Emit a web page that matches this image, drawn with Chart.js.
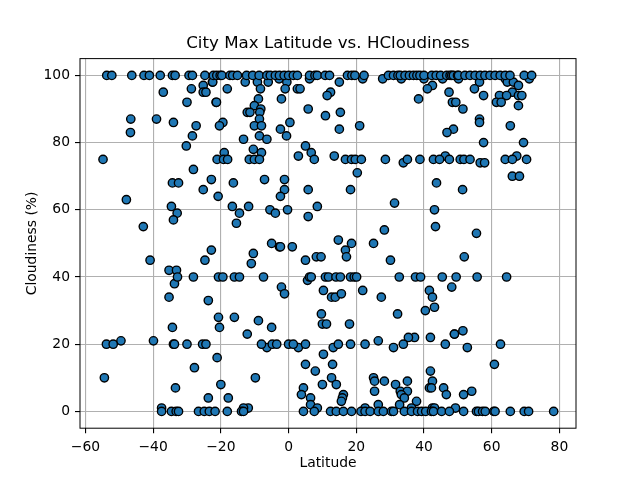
<!DOCTYPE html>
<html>
<head>
<meta charset="utf-8">
<title>City Max Latitude vs. HCloudiness</title>
<script src="https://cdn.jsdelivr.net/npm/chart.js@4"></script>
<style>
  html, body { margin: 0; padding: 0; background: #fff; }
  #wrap { width: 640px; height: 480px; }
</style>
</head>
<body>
<div id="wrap"><canvas id="chart" width="640" height="480"></canvas></div>
<script>
// lignes ou beaucoup de villes ont la meme valeur
const lat100 = [-53.7,-52.2,-46.3,-42.7,-41.1,-37.9,-34.3,-33.5,-29.4,-28.4,-24.7,-22.2,-21.2,-20.2,-19.7,-17.3,-16.5,-15.1,-12.4,-10.6,-8.7,-6.4,-5.4,-3.9,-2.7,-1.3,0,1.4,2.6,6.2,7.8,8.5,10.8,12.1,17.4,18.7,19.6,22.3,29.5,31,32.3,33,34.4,35.7,36.9,37.9,38.8,40,42.3,43.6,44.9,46.7,47.7,48.2,48.7,49.9,50.2,52.1,53.6,55.1,56.6,58,59.5,61,62.5,64,65.4,69.6,71.8];
const lat75 = [-54.8,-21.1,-19.2,-18,-11.6,-10.1,-8.6,7.6,16.8,18.6,19.7,21.5,28.6,35.1,38.8,42.8,44.6,47.5,50.7,51.8,53.6,64,66.1,70.3];
const lat40 = [-32.8,-28.1,-20.7,-19.4,-16,-14.5,-7.4,6.2,6.7,10.9,11.8,14,15.3,18.3,19.4,20.1,32.7,37.5,39,45.4,49.5,55.7,64.4];
const lat20 = [-53.8,-51.8,-34,-33.7,-30,-25.4,-24.4,-8,-4.8,-3.5,0,1.4,5,14.7,18.3,22.6,33.9,46.3,62.6];
const lat0 = [-37.5,-34.6,-33.2,-32.5,-26.6,-24.9,-23.4,-21.7,-18.1,-13.9,-13.3,4.4,7.6,12.4,14.1,16.2,18.6,21.4,22.6,24.1,26.5,28,30.4,31,34.2,36.3,38.1,39.3,40.5,42.2,42.8,45.2,47.5,51.7,55.5,56.1,57.3,58.1,60.6,61,65.5,69.6,70.9,78.3];

// les autres villes, lues une par une (meme ordre dans les 2 listes)
const otherLat = [
  -25.2,-22.5,-37,-28.7,-25.2,-24.4,-30,-21.4,-46.6,-39,-34,-27.3,-46.7,-28.4,-30.2,-28.1,-22.8,-34.3,-32.5,-25.2,-20.8,-47.9,-34.6,-32.9,-34,-42.9,
  -22.8,-40.9,-24.7,-35.3,-33.1,-33.7,-35.3,-23.7,-20.7,-20.4,-34.3,-49.5,-39.9,-21.1,-27.8,-54.4,-33.4,-20,-23.7,-37.5,
  -22.4,-18.1,-12.8,-9.2,-6,-8.3,-2.8,-0.5,-1,2.6,3.4,6.2,15,12.4,11.4,-8.9,-2.1,-21.3,-10.1,-8.2,-12.2,-11.4,-8.5,5.8,15.3,10.9,-8.6,-19.4,-20.4,-10.1,-8,0.4,-2.4,15,21,
  -8.6,-6.4,-0.6,-13.3,5,-10.4,-19,-8,6.7,2.9,13.5,20.3,-16.3,-7.1,-1.2,-1.2,5.8,18.3,-2.4,-16.6,-11.8,-5.5,-3.9,-0.3,8.5,-14.5,-15.4,5.8,
  14.7,18.6,-5,-2.7,-2.4,1.1,16.8,-10.4,-11,5,8.2,9.6,17.1,5.6,-2.1,-1.2,10.3,12.7,13.8,15.6,9.7,10,11.2,18,-16,-8.9,-12.2,-5,-6.4,2.9,13.2,10.3,5,13,7.9,-9.8,12.7,10,14.1,4.4,3.8,-17.8,6.5,6.5,16.2,15.9,15.6,-11.9,-13.3,8.5,
  21.9,27.8,33.3,40,45.5,42.5,41,47.4,38.4,48.4,49.4,48.7,46.8,46.3,33.9,43.7,31.3,43.1,43.4,28.3,25.1,
  30.1,41.6,42.5,43.1,40.4,48.2,21.9,27.4,32.2,37.2,35.4,41.9,49,26.5,31,41.9,25.1,25.4,28.3,31.6,35.1,42.5,41.6,42.2,45.8,25.4,33,35.1,33.3,34.2,46.6,37.8,32.8,26.5,22.6,36.3,42.5,43.1,49.3,
  50.2,56.4,64,64.6,66.4,67.9,71.1,54.9,66.1,57.6,62.3,64.4,67.9,68.9,61.4,62.8,51.5,67.9,56.4,56.4,65.5,57.6,69.4,67.4,56.6,57.9,66.1,68.2,51.4,55.5,
  51.9,51.5,49,52.8,60.8,54.1,51.7
];
const otherCloud = [
  97,98,95,96,95,95,92,92,87,87,86,85,83,82,79,72,69,68,68,66,64,63,61,59,57,55,
  48,45,45,42,42,38,34,33,28,25,25,21,21,16,13,10,7,8,4,1,
  98,96,98,98,98,96,99,98,96,96,96,99,98,95,94,93,93,92,91,90,89,89,89,90,89,88,87,86,85,85,85,86,84,84,85,
  82,81,82,81,79,78,77,77,77,76,76,71,68,69,69,66,66,66,64,61,61,60,59,60,61,59,56,58,
  51,50,50,49,49,49,48,47,44,45,46,46,46,39,37,35,36,34,34,35,29,26,26,26,28,27,23,25,19,19,19,17,14,14,12,10,10,8,8,7,5,4,4,2,5,4,3,1,1,1,
  99,99,99,99,99,97,96,95,93,92,92,84,83,76,74,68,62,60,55,54,50,
  45,36,34,31,30,37,36,34,29,22,22,22,23,21,19,12,10,9,9,8,9,9,7,7,7,6,6,6,5,4,5,3,2,2,1,1,1,1,1,
  99,98,99,98,98,97,99,96,95,94,94,94,94,94,92,92,90,91,87,86,85,80,80,76,74,74,70,70,66,53,
  46,24,23,19,14,6,5
];
const xTicks = [-60,-40,-20,0,20,40,60,80];
const yTicks = [0,20,40,60,80,100];

const latitudes = [...otherLat, ...lat100, ...lat75, ...lat40, ...lat20, ...lat0];
const cloudiness = [
  ...otherCloud,
  ...lat100.map(() => 100), ...lat75.map(() => 75), ...lat40.map(() => 40),
  ...lat20.map(() => 20), ...lat0.map(() => 0)
];
const points = latitudes.map((v, i) => ({ x: v, y: cloudiness[i] }));

const FONT = 'DejaVu Sans';

//cadre complet comme matplotlib (haut et droite aussi)
const frame = {
  id: 'frame',
  afterDraw(chart) {
    const a = chart.chartArea, ctx = chart.ctx;
    ctx.save();
    ctx.strokeStyle = '#000';
    ctx.lineWidth = 1;
    ctx.strokeRect(a.left, a.top, a.right - a.left, a.bottom - a.top);
    ctx.restore();
  }
};

function tickLabel(v) { return String(v).replace('-', '\u2212'); }

new Chart(document.getElementById('chart').getContext('2d'), {
  type: 'scatter',
  data: {
    datasets: [{
      data: points,
      backgroundColor: '#1f77b4',
      borderColor: '#000',
      borderWidth: 1.39,
      pointRadius: 4.17,
      pointHoverRadius: 4.17
    }]
  },
  options: {
    responsive: false,
    animation: false,
    devicePixelRatio: 1,
    layout: { padding: { left: 0, right: 64, top: 0, bottom: 0 } },
    plugins: {
      legend: { display: false },
      tooltip: { enabled: false },
      title: {
        display: true,
        fullSize: false,
        text: 'City Max Latitude vs. HCloudiness',
        color: '#000',
        font: { family: FONT, size: 16.67, weight: 'normal' },
        padding: { top: 34, bottom: 4.6 }
      }
    },
    scales: {
      x: {
        type: 'linear',
        min: -61.6,
        max: 84.9,
        afterFit(s) { s.height = 51.8; },
        afterBuildTicks(s) { s.ticks = xTicks.map(v => ({ value: v })); },
        grid: { color: '#b0b0b0', lineWidth: 1.11, tickColor: '#000', tickLength: 5 },
        border: { display: false },
        ticks: {
          color: '#000', padding: 6, maxRotation: 0, autoSkip: false,
          font: { family: FONT, size: 13.89 },
          callback: tickLabel
        },
        title: {
          display: true, text: 'Latitude', color: '#000',
          font: { family: FONT, size: 13.89 },
          padding: { top: 4, bottom: 8 }
        }
      },
      y: {
        type: 'linear',
        min: -5,
        max: 105,
        afterFit(s) { s.width = 80; },
        afterBuildTicks(s) { s.ticks = yTicks.map(v => ({ value: v })); },
        grid: { color: '#b0b0b0', lineWidth: 1.11, tickColor: '#000', tickLength: 5 },
        border: { display: false },
        ticks: {
          color: '#000', padding: 5, autoSkip: false,
          font: { family: FONT, size: 13.89 },
          callback: tickLabel
        },
        title: {
          display: true, text: 'Cloudiness (%)', color: '#000',
          font: { family: FONT, size: 13.89 },
          padding: { top: 24, bottom: 4 }
        }
      }
    }
  },
  plugins: [frame]
});
</script>
</body>
</html>
